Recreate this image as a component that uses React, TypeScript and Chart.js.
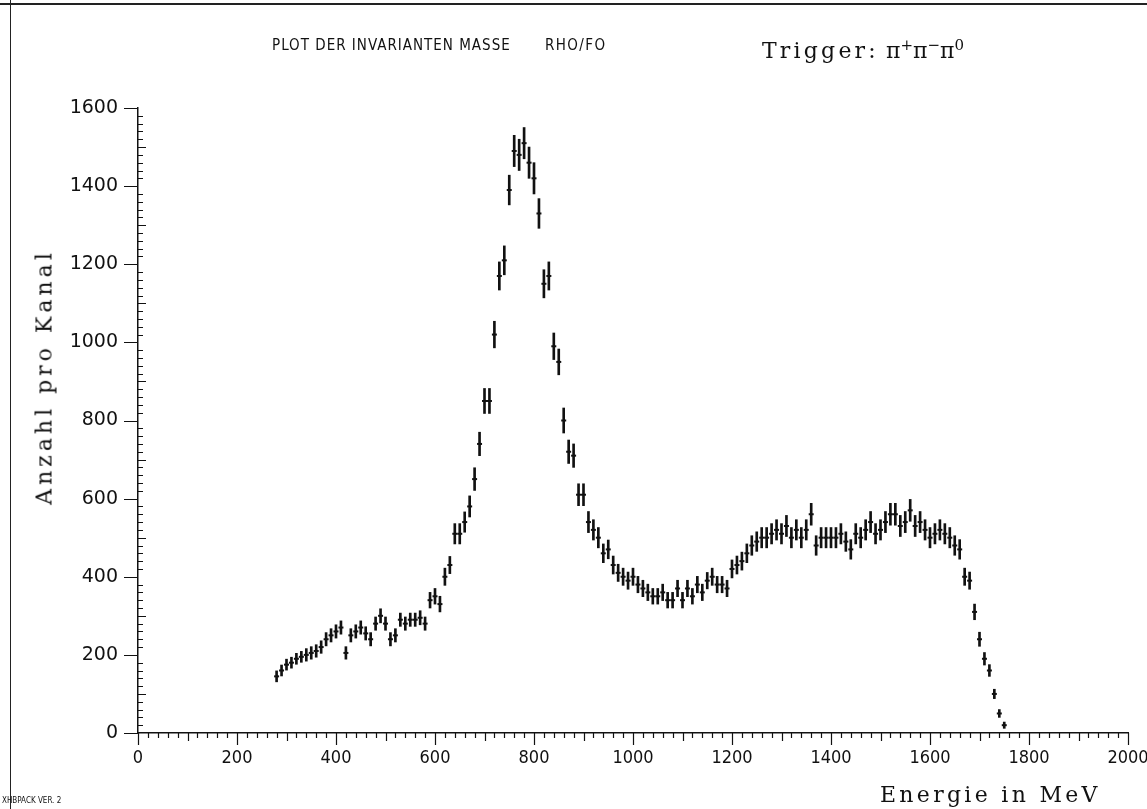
import React, { useEffect, useRef } from "react";
import { Chart, registerables } from "chart.js";

Chart.register(...registerables);

// Channel centres (MeV)
const energyMeV = [
  280, 290, 300, 310, 320, 330, 340, 350, 360, 370,
  380, 390, 400, 410, 420, 430, 440, 450, 460, 470,
  480, 490, 500, 510, 520, 530, 540, 550, 560, 570,
  580, 590, 600, 610, 620, 630, 640, 650, 660, 670,
  680, 690, 700, 710, 720, 730, 740, 750, 760, 770,
  780, 790, 800, 810, 820, 830, 840, 850, 860, 870,
  880, 890, 900, 910, 920, 930, 940, 950, 960, 970,
  980, 990, 1000, 1010, 1020, 1030, 1040, 1050, 1060, 1070,
  1080, 1090, 1100, 1110, 1120, 1130, 1140, 1150, 1160, 1170,
  1180, 1190, 1200, 1210, 1220, 1230, 1240, 1250, 1260, 1270,
  1280, 1290, 1300, 1310, 1320, 1330, 1340, 1350, 1360, 1370,
  1380, 1390, 1400, 1410, 1420, 1430, 1440, 1450, 1460, 1470,
  1480, 1490, 1500, 1510, 1520, 1530, 1540, 1550, 1560, 1570,
  1580, 1590, 1600, 1610, 1620, 1630, 1640, 1650, 1660, 1670,
  1680, 1690, 1700, 1710, 1720, 1730, 1740, 1750,
];

// Counts per channel
const counts = [
  145, 160, 175, 180, 190, 195, 200, 205, 210, 220,
  240, 250, 260, 270, 205, 250, 260, 270, 255, 240,
  280, 300, 280, 240, 250, 290, 280, 290, 290, 295,
  280, 340, 350, 330, 400, 430, 510, 510, 540, 580,
  650, 740, 850, 850, 1020, 1170, 1210, 1390, 1490, 1480,
  1510, 1460, 1420, 1330, 1150, 1170, 990, 950, 800, 720,
  710, 610, 610, 540, 520, 500, 460, 470, 430, 410,
  400, 390, 400, 380, 370, 360, 350, 350, 360, 340,
  340, 370, 340, 370, 350, 380, 360, 390, 400, 380,
  380, 370, 420, 430, 440, 460, 480, 490, 500, 500,
  510, 520, 510, 530, 500, 520, 500, 520, 560, 480,
  500, 500, 500, 500, 510, 490, 470, 510, 500, 520,
  540, 510, 520, 540, 560, 560, 530, 540, 570, 530,
  540, 520, 500, 510, 520, 510, 500, 480, 470, 400,
  390, 310, 240, 190, 160, 100, 50, 20,
];

// Half-length of each error bar
const errors = [
  14, 14, 14, 14, 14, 14, 16, 16, 16, 16,
  17, 17, 17, 17, 16, 17, 17, 17, 17, 17,
  17, 18, 17, 17, 17, 17, 17, 17, 17, 18,
  17, 20, 20, 20, 22, 22, 26, 26, 26, 27,
  29, 30, 32, 32, 34, 36, 37, 38, 40, 40,
  40, 40, 40, 38, 36, 36, 34, 33, 32, 30,
  30, 28, 28, 27, 26, 26, 24, 24, 23, 22,
  22, 22, 22, 21, 21, 21, 20, 20, 21, 20,
  20, 21, 20, 21, 20, 21, 21, 21, 22, 21,
  21, 21, 23, 23, 23, 24, 25, 25, 26, 26,
  26, 26, 26, 27, 26, 26, 26, 26, 28, 25,
  26, 26, 26, 26, 26, 25, 25, 26, 26, 26,
  27, 26, 26, 27, 28, 28, 27, 27, 28, 27,
  27, 26, 26, 26, 26, 26, 26, 25, 25, 22,
  22, 20, 18, 16, 15, 12, 10, 8,
];

const xTickLabels = [0, 200, 400, 600, 800, 1000, 1200, 1400, 1600, 1800, 2000];
const yTickLabels = [0, 200, 400, 600, 800, 1000, 1200, 1400, 1600];

const X_MIN = 0;
const X_MAX = 2000;
const Y_MIN = 0;
const Y_MAX = 1600;

const INK = "#111";

const plotterTicks = {
  id: "plotterTicks",
  afterDraw(chart: any) {
    const { ctx } = chart;
    const xs = chart.scales.x;
    const ys = chart.scales.y;
    const y0 = ys.getPixelForValue(Y_MIN);
    const x0 = xs.getPixelForValue(X_MIN);
    ctx.save();
    ctx.strokeStyle = INK;
    ctx.lineWidth = 1.2;
    ctx.beginPath();
    for (let v = X_MIN; v <= X_MAX; v += 20) {
      const px = Math.round(xs.getPixelForValue(v)) + 0.5;
      const len = v % 200 === 0 ? 12 : v % 100 === 0 ? 8 : 5;
      ctx.moveTo(px, y0);
      ctx.lineTo(px, y0 + len);
    }
    for (let v = Y_MIN; v <= Y_MAX; v += 20) {
      const py = Math.round(ys.getPixelForValue(v)) + 0.5;
      if (v % 200 === 0) {
        ctx.moveTo(x0 - 14, py);
        ctx.lineTo(x0, py);
      } else {
        const len = v % 100 === 0 ? 8 : 5;
        ctx.moveTo(x0, py);
        ctx.lineTo(x0 + len, py);
      }
    }
    ctx.stroke();
    ctx.restore();
  },
};

export default function App() {
  const canvasRef = useRef<HTMLCanvasElement | null>(null);

  useEffect(() => {
    const canvas = canvasRef.current;
    if (!canvas) return;
    const bars = energyMeV.map((e, i) => ({ x: e, y: [counts[i] - errors[i], counts[i] + errors[i]] }));
    const centres = energyMeV.map((e, i) => ({ x: e, y: counts[i] }));
    const chart = new Chart(canvas, {
      type: "bar",
      data: {
        datasets: [
          {
            type: "bar",
            data: bars as any,
            backgroundColor: INK,
            borderWidth: 0,
            barThickness: 2,
            grouped: false,
          } as any,
          {
            type: "scatter",
            data: centres as any,
            pointStyle: "line",
            pointRadius: 2.5,
            borderColor: INK,
            borderWidth: 2,
            showLine: false,
          } as any,
        ],
      },
      options: {
        animation: false,
        responsive: false,
        maintainAspectRatio: false,
        layout: { padding: { top: 108, right: 19, left: 0, bottom: 0 } },
        plugins: { legend: { display: false }, tooltip: { enabled: false }, title: { display: false } },
        scales: {
          x: {
            type: "linear",
            min: X_MIN,
            max: X_MAX,
            offset: false,
            grid: { display: false, drawTicks: false },
            border: { display: true, color: INK, width: 1.5 },
            afterBuildTicks: (s: any) => {
              s.ticks = xTickLabels.map((v) => ({ value: v }));
            },
            afterFit: (s: any) => {
              s.height = 76;
              s.paddingLeft = 0;
              s.paddingRight = 0;
            },
            ticks: {
              color: INK,
              padding: 15,
              maxRotation: 0,
              autoSkip: false,
              callback: (v: any) => String(v),
              font: { family: "'DejaVu Sans Condensed', 'DejaVu Sans', sans-serif", size: 18 },
            },
          },
          y: {
            type: "linear",
            min: Y_MIN,
            max: Y_MAX,
            grid: { display: false, drawTicks: false },
            border: { display: true, color: INK, width: 1.5 },
            afterBuildTicks: (s: any) => {
              s.ticks = yTickLabels.map((v) => ({ value: v }));
            },
            afterFit: (s: any) => {
              s.width = 138;
              s.paddingTop = 0;
              s.paddingBottom = 0;
            },
            ticks: {
              color: INK,
              padding: 20,
              autoSkip: false,
              callback: (v: any) => String(v),
              font: { family: "'DejaVu Sans', sans-serif", size: 19 },
            },
          },
        },
      },
      plugins: [plotterTicks],
    });
    return () => chart.destroy();
  }, []);

  const plotter = "'DejaVu Sans Condensed', 'DejaVu Sans', sans-serif";
  const serif = "'DejaVu Serif', 'Liberation Serif', serif";

  return (
    <div style={{ position: "fixed", left: 0, top: 0, width: 1147, height: 809, background: "#fff", overflow: "hidden" }}>
      <div style={{ position: "absolute", left: 0, top: 3, width: 1147, height: 0, borderTop: "2px solid #222" }} />
      <div style={{ position: "absolute", left: 10, top: 0, width: 0, height: 809, borderLeft: "1.5px solid #222" }} />
      <canvas ref={canvasRef} width={1147} height={809} style={{ position: "absolute", left: 0, top: 0, width: 1147, height: 809 }} />
      <div style={{ position: "absolute", left: 272, top: 36, font: `15px ${plotter}`, color: INK, whiteSpace: "pre", letterSpacing: "1px" }}>
        PLOT DER INVARIANTEN MASSE
      </div>
      <div style={{ position: "absolute", left: 545, top: 36, font: `15px ${plotter}`, color: INK, whiteSpace: "pre", letterSpacing: "1.4px" }}>
        RHO/FO
      </div>
      <div style={{ position: "absolute", left: 762, top: 30, font: `22px ${serif}`, color: INK, whiteSpace: "pre", lineHeight: "30px", letterSpacing: "3.2px" }}>
        Trigger:<span style={{ letterSpacing: "0px" }}> π<sup style={{ fontSize: 15 }}>+</sup>π<sup style={{ fontSize: 15 }}>−</sup>π<sup style={{ fontSize: 15 }}>0</sup></span>
      </div>
      <div style={{ position: "absolute", left: 44, top: 377, width: 0, height: 0 }}>
        <div style={{ position: "absolute", left: 0, top: 0, transform: "translate(-50%, -50%) rotate(-90deg)", font: `22px ${serif}`, color: INK, whiteSpace: "pre", letterSpacing: "4px" }}>
          Anzahl pro Kanal
        </div>
      </div>
      <div style={{ position: "absolute", left: 880, top: 782, font: `22px ${serif}`, color: INK, whiteSpace: "pre", letterSpacing: "3.3px" }}>
        Energie in MeV
      </div>
      <div style={{ position: "absolute", left: 2, top: 796, font: `8px ${plotter}`, color: INK, whiteSpace: "pre" }}>
        XHBPACK VER. 2
      </div>
    </div>
  );
}
